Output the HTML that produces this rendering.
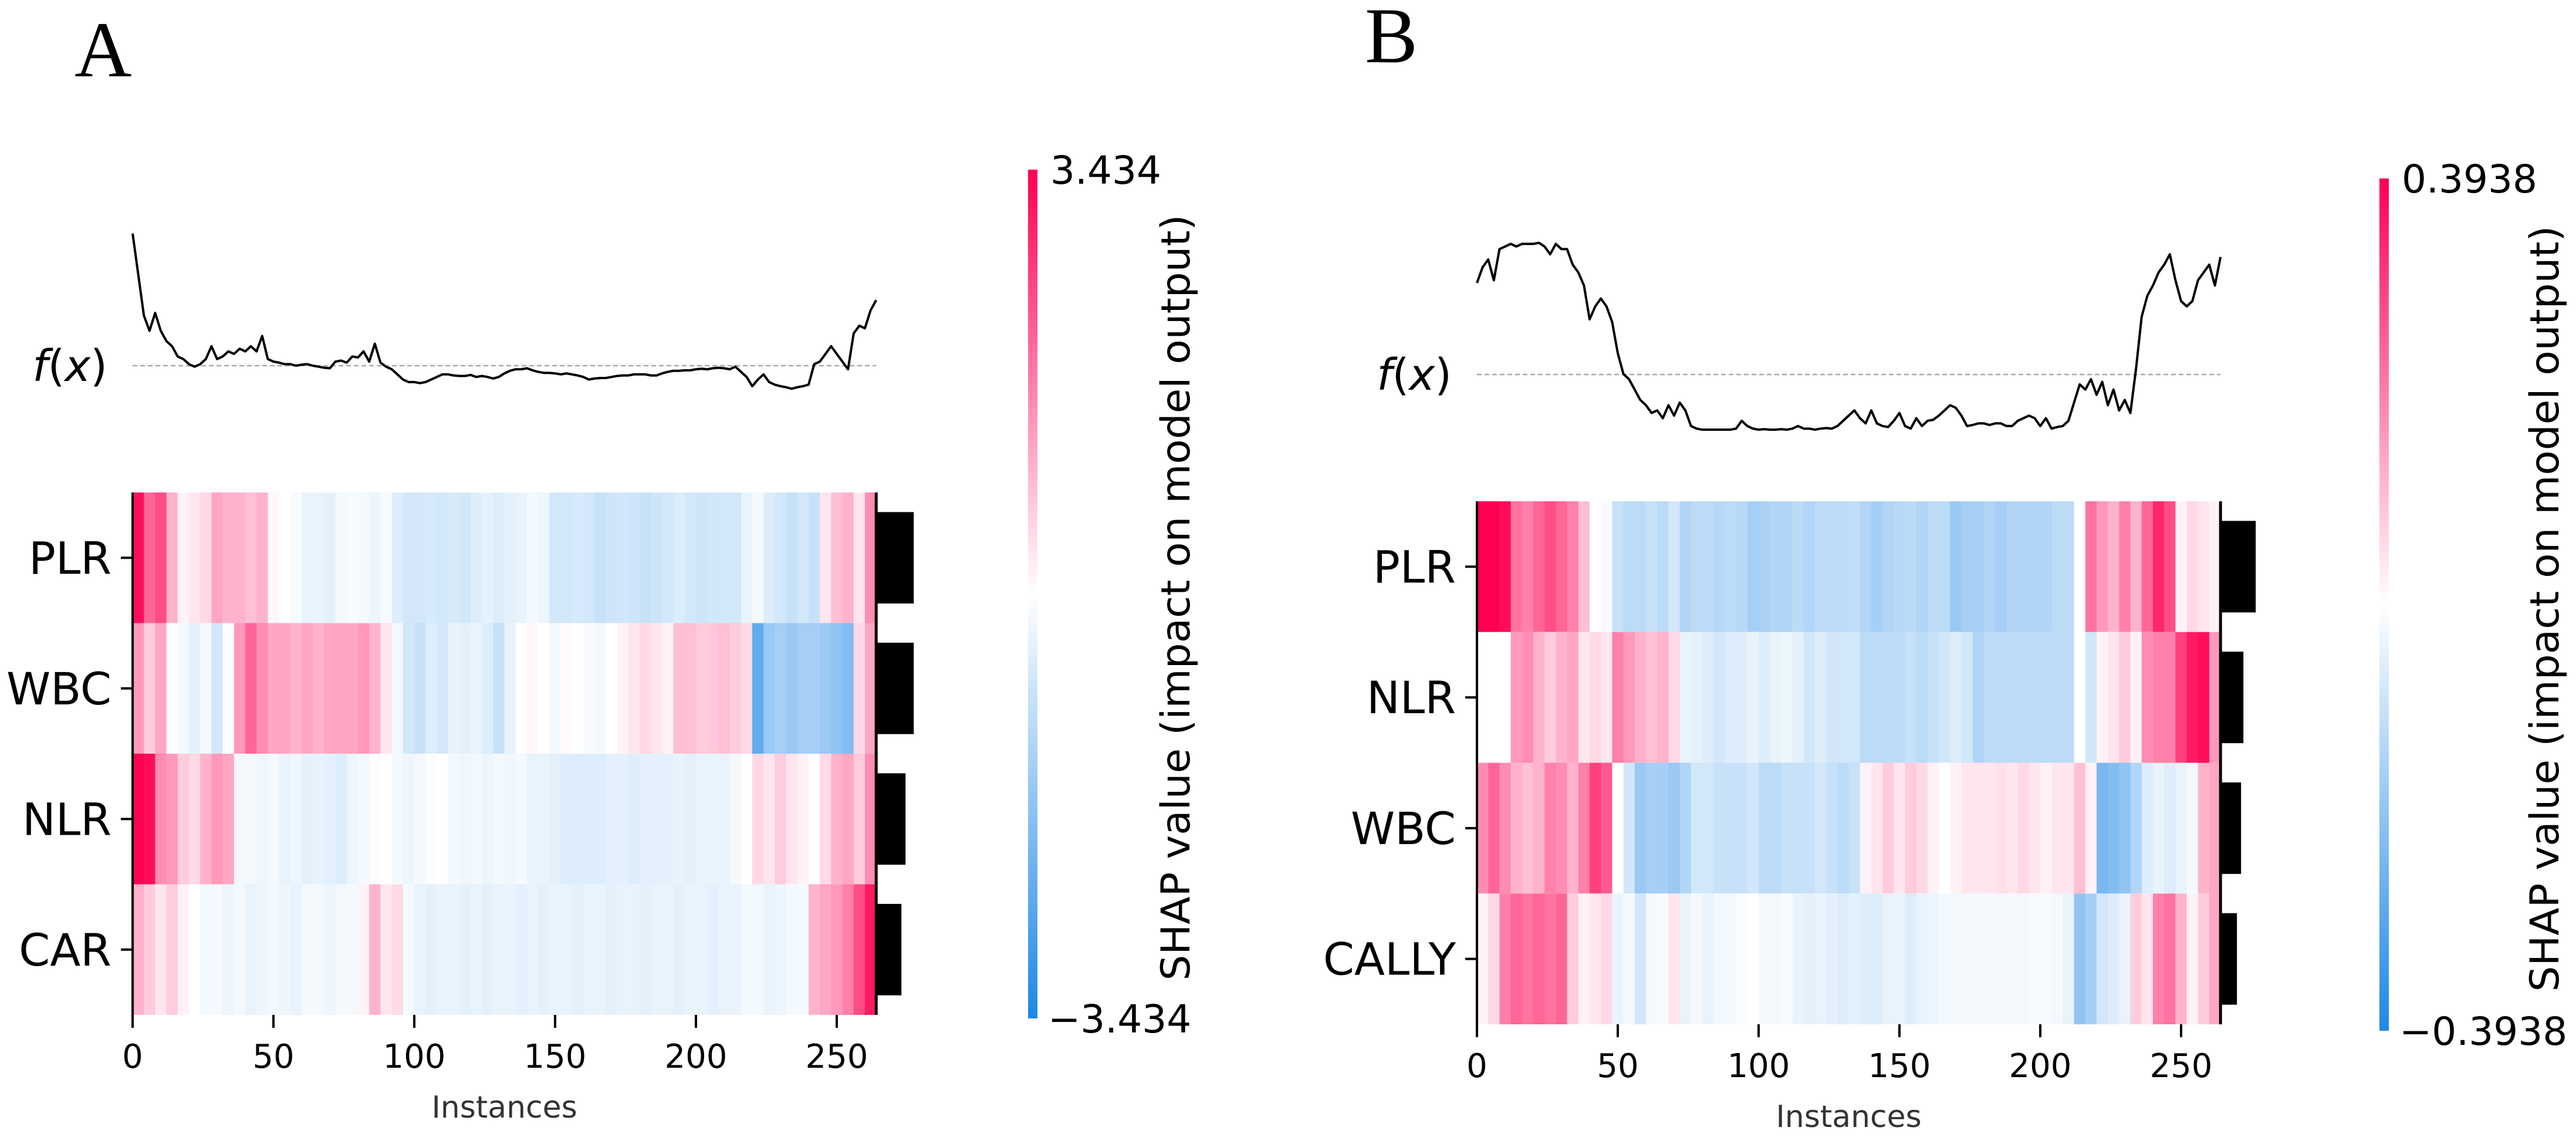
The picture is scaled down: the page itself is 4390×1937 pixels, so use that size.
<!DOCTYPE html>
<html><head><meta charset="utf-8">
<style>
html,body{margin:0;padding:0;background:#fff;}
svg{display:block;font-family:"DejaVu Sans","Liberation Sans",sans-serif;}
</style></head>
<body>
<svg id="fig" width="4390" height="1937" viewBox="0 0 4390 1937" xmlns="http://www.w3.org/2000/svg">
<defs>
<linearGradient id="cbar" x1="0" y1="1" x2="0" y2="0">
<stop offset="0" stop-color="rgb(30,136,229)"/>
<stop offset="0.5" stop-color="rgb(255,255,255)"/>
<stop offset="1" stop-color="rgb(255,0,82)"/>
</linearGradient>
</defs>
<text x="127" y="130" font-family="Liberation Serif, serif" font-size="135">A</text>
<text x="2326" y="106" font-family="Liberation Serif, serif" font-size="135">B</text>
<g id="pa"></g>
<g id="pb"></g>
</svg>
<script>
// ---------- Panel A data ----------
const featuresA = ["PLR","WBC","NLR","CAR"];
const plrA = [0.95,0.6,0.7,0.3,0.05,0.1,0.15,0.35,0.3,0.3,0.25,0.3,0.03,0,-0.03,-0.1,-0.1,-0.12,-0.05,-0.03,-0.05,-0.08,-0.03,-0.15,-0.2,-0.2,-0.18,-0.2,-0.18,-0.2,-0.15,-0.12,-0.15,-0.12,-0.1,-0.05,-0.08,-0.2,-0.2,-0.18,-0.2,-0.25,-0.22,-0.2,-0.22,-0.25,-0.22,-0.2,-0.15,-0.2,-0.22,-0.2,-0.2,-0.2,-0.1,-0.05,-0.15,-0.2,-0.25,-0.2,-0.25,0.1,0.25,0.3,0.1,0.45];
const wbcA = [0.4,0.2,0.35,0,-0.05,-0.12,-0.05,-0.2,0,0.4,0.6,0.45,0.35,0.35,0.3,0.35,0.3,0.35,0.35,0.35,0.4,0.3,0.1,-0.05,-0.2,-0.25,-0.15,-0.2,-0.1,-0.12,-0.1,-0.15,-0.25,-0.1,0,0.03,0,-0.05,0.02,0,-0.03,-0.05,0,0.05,0.1,0.15,0.1,0.05,0.25,0.25,0.2,0.22,0.25,0.2,0.15,-0.7,-0.45,-0.4,-0.45,-0.4,-0.4,-0.45,-0.5,-0.55,0.15,0.35];
const nlrA = [1,0.95,0.45,0.4,0.2,0.15,0.3,0.4,0.35,-0.05,-0.05,-0.07,-0.05,-0.1,-0.08,-0.12,-0.1,-0.12,-0.15,-0.08,-0.05,-0.02,0,-0.05,-0.08,-0.05,-0.02,0,-0.05,-0.07,-0.05,-0.08,-0.05,-0.07,-0.05,-0.1,-0.1,-0.12,-0.15,-0.15,-0.15,-0.15,-0.12,-0.12,-0.15,-0.12,-0.12,-0.12,-0.1,-0.12,-0.1,-0.1,-0.1,-0.05,0,0.15,0.1,0.2,0.1,0.05,0,0.15,0.3,0.35,0.2,0.45];
const carA = [0.3,0.2,0.1,0.2,0.05,0,-0.05,-0.05,-0.08,-0.05,-0.1,-0.08,-0.05,-0.08,-0.1,-0.05,-0.05,-0.08,-0.05,-0.05,0.05,0.3,0.1,0.15,-0.05,-0.1,-0.12,-0.1,-0.1,-0.12,-0.1,-0.12,-0.1,-0.1,-0.12,-0.1,-0.12,-0.1,-0.1,-0.12,-0.1,-0.1,-0.12,-0.1,-0.1,-0.12,-0.1,-0.1,-0.12,-0.1,-0.1,-0.12,-0.1,-0.1,-0.05,-0.05,-0.1,-0.08,-0.05,-0.05,0.3,0.35,0.4,0.5,0.7,0.9];
const importanceA = [0.64,0.64,0.50,0.43];
const fxA = [2.58,1.78,0.98,0.68,1.03,0.68,0.48,0.38,0.18,0.13,
0.03,-0.02,0.03,0.13,0.38,0.13,0.18,0.28,0.23,0.33,
0.28,0.38,0.28,0.58,0.13,0.08,0.06,0.03,0.03,0,
0.02,0.03,0,-0.02,-0.04,-0.05,0.08,0.1,0.06,0.18,
0.16,0.28,0.08,0.43,0.06,-0.02,-0.07,-0.17,-0.27,-0.32,
-0.32,-0.34,-0.32,-0.27,-0.22,-0.17,-0.17,-0.19,-0.2,-0.2,
-0.18,-0.22,-0.2,-0.22,-0.25,-0.22,-0.15,-0.1,-0.07,-0.07,
-0.05,-0.09,-0.12,-0.14,-0.14,-0.15,-0.17,-0.15,-0.17,-0.19,
-0.22,-0.27,-0.25,-0.24,-0.24,-0.22,-0.2,-0.19,-0.19,-0.17,
-0.17,-0.17,-0.19,-0.19,-0.15,-0.12,-0.1,-0.1,-0.09,-0.09,
-0.07,-0.06,-0.07,-0.05,-0.04,-0.05,-0.07,-0.02,-0.12,-0.22,
-0.4,-0.27,-0.17,-0.32,-0.37,-0.4,-0.42,-0.45,-0.42,-0.4,
-0.37,0.03,0.08,0.23,0.38,0.23,0.08,-0.07,0.63,0.78,
0.73,1.08,1.28];
const cbarTicksA = ["3.434","\u22123.434"];

// ---------- Panel B data ----------
const featuresB = ["PLR","NLR","WBC","CALLY"];
const plrB = [1,1,0.95,0.55,0.5,0.6,0.7,0.6,0.5,0.25,0,-0.03,-0.25,-0.3,-0.3,-0.25,-0.3,-0.2,-0.35,-0.3,-0.3,-0.32,-0.3,-0.32,-0.4,-0.38,-0.35,-0.35,-0.3,-0.35,-0.3,-0.3,-0.3,-0.28,-0.35,-0.4,-0.35,-0.32,-0.3,-0.35,-0.3,-0.3,-0.45,-0.4,-0.4,-0.35,-0.4,-0.35,-0.35,-0.35,-0.35,-0.3,-0.3,0,0.55,0.4,0.3,0.5,0.3,0.6,0.85,0.7,0.05,0.15,0.1,0.05];
const nlrB = [0,0,0,0.4,0.45,0.3,0.2,0.3,0.35,0.1,0.15,0.1,0.5,0.4,0.3,0.25,0.3,0.15,-0.1,-0.12,-0.15,-0.2,-0.15,-0.15,-0.1,-0.15,-0.1,-0.08,-0.12,-0.2,-0.15,-0.2,-0.2,-0.2,-0.3,-0.3,-0.3,-0.3,-0.25,-0.3,-0.25,-0.2,-0.15,-0.2,-0.35,-0.3,-0.3,-0.3,-0.3,-0.3,-0.3,-0.3,-0.3,0,-0.2,0.05,0.1,0.2,0.05,0.45,0.5,0.5,0.75,0.9,0.95,0.4];
const wbcB = [0.45,0.6,0.45,0.3,0.25,0.3,0.5,0.45,0.3,0.5,0.75,0.65,0,-0.2,-0.45,-0.4,-0.4,-0.45,-0.35,-0.2,-0.2,-0.25,-0.25,-0.25,-0.2,-0.3,-0.3,-0.25,-0.25,-0.25,-0.2,-0.25,-0.3,-0.25,0.05,0.1,0.2,0.1,0.2,0.15,0.05,0,0.05,0.1,0.1,0.1,0.12,0.1,0.15,0.1,0.05,0.1,0.1,0.25,0.05,-0.6,-0.55,-0.5,-0.35,-0.15,-0.1,-0.15,-0.1,-0.05,0.3,0.35];
const callyB = [0.05,0.15,0.5,0.6,0.55,0.6,0.55,0.6,0.2,0.05,0.1,0.15,-0.1,-0.05,-0.2,-0.05,-0.03,0.1,-0.1,-0.05,-0.1,-0.05,-0.05,-0.02,0,-0.05,-0.05,-0.03,-0.1,-0.12,-0.1,-0.12,-0.15,-0.12,-0.15,-0.15,-0.1,-0.1,-0.15,-0.1,-0.08,-0.05,-0.05,-0.05,-0.05,-0.05,-0.05,-0.05,-0.05,-0.03,-0.03,-0.05,-0.1,-0.5,-0.4,-0.2,-0.15,-0.1,0.2,0.1,0.5,0.55,0.3,0.05,0.2,0.35];
const importanceB = [0.60,0.39,0.35,0.28];
const fxB = [1.76,2.06,2.21,1.81,2.41,2.46,2.51,2.46,2.51,2.51,
2.51,2.53,2.46,2.31,2.51,2.41,2.41,2.11,1.96,1.71,
1.06,1.31,1.46,1.31,1.01,0.41,0.01,-0.09,-0.29,-0.49,
-0.59,-0.74,-0.69,-0.84,-0.59,-0.79,-0.54,-0.69,-0.99,-1.04,
-1.06,-1.06,-1.06,-1.06,-1.06,-1.06,-1.04,-0.89,-0.99,-1.04,
-1.06,-1.05,-1.06,-1.06,-1.05,-1.06,-1.04,-0.99,-1.04,-1.04,
-1.06,-1.04,-1.03,-1.04,-0.99,-0.89,-0.79,-0.69,-0.84,-0.94,
-0.69,-0.94,-0.99,-1.01,-0.89,-0.74,-0.99,-1.04,-0.84,-0.99,
-0.89,-0.87,-0.79,-0.69,-0.59,-0.64,-0.79,-0.99,-0.97,-0.94,
-0.94,-0.97,-0.94,-0.94,-0.99,-0.99,-0.89,-0.84,-0.79,-0.84,
-0.99,-0.84,-1.04,-1.01,-0.99,-0.89,-0.54,-0.19,-0.29,-0.09,
-0.39,-0.14,-0.59,-0.29,-0.69,-0.49,-0.74,0.11,1.11,1.51,
1.71,1.96,2.11,2.31,1.81,1.41,1.31,1.41,1.81,1.96,
2.11,1.71,2.26];
const cbarTicksB = ["0.3938","\u22120.3938"];

const xTicks = [0,50,100,150,200,250];
const nInstances = 264;
const cellSize = 4;
const fxStep = 2;

const NS = "http://www.w3.org/2000/svg";
function mk(tag, attrs, parent){
  const e = document.createElementNS(NS, tag);
  for (const k in attrs) e.setAttribute(k, attrs[k]);
  parent.appendChild(e);
  return e;
}
function color(v){
  v = Math.max(-1, Math.min(1, v));
  let r,g,b;
  if (v >= 0){ r = 255; g = 255 - 255*v; b = 255 - 173*v; }
  else { const t = -v; r = 255 - 225*t; g = 255 - 119*t; b = 255 - 26*t; }
  return `rgb(${Math.round(r)},${Math.round(g)},${Math.round(b)})`;
}

function drawPanel(root, cfg){
  const xScale = i => cfg.left + i * cfg.pxPerInst;
  const rowH = (cfg.bottom - cfg.top) / cfg.features.length;
  const yRow = r => cfg.top + r * rowH;
  const yFx = v => cfg.baseY - v * cfg.fxScale;
  const right = xScale(nInstances);

  // heatmap cells
  cfg.rows.forEach((row, r) => {
    row.forEach((v, k) => {
      const c = mk('rect', {x: xScale(k*cellSize), y: yRow(r), width: cellSize*cfg.pxPerInst + 0.6, height: rowH, fill: color(v)}, root);
      
      
    });
  });

  // axes spines
  const ls = mk('line', {x1: cfg.left, y1: cfg.top, x2: cfg.left, y2: cfg.bottom, stroke: '#000', 'stroke-width': 4}, root);
  
  
  const rs = mk('line', {x1: right, y1: cfg.top, x2: right, y2: cfg.bottom, stroke: '#000', 'stroke-width': 5}, root);
  
  

  // feature labels + ticks + importance bars
  cfg.features.forEach((f, r) => {
    const cy = yRow(r) + rowH/2;
    const t = mk('line', {x1: cfg.left-20, y1: cy, x2: cfg.left, y2: cy, stroke: '#000', 'stroke-width': 4}, root);
    
    
    const lb = mk('text', {x: cfg.left-36, y: cy + 27, 'text-anchor': 'end', 'font-size': 76, fill: '#000'}, root);
    lb.textContent = f;
    
    
    const bw = cfg.importance[r] * 100;
    const bh = rowH * 0.7;
    const b = mk('rect', {x: right, y: cy - bh/2, width: bw, height: bh, fill: '#000'}, root);
    
    
  });

  // x ticks
  xTicks.forEach(v => {
    const x = xScale(v);
    const t = mk('line', {x1: x, y1: cfg.bottom, x2: x, y2: cfg.bottom+22, stroke: '#000', 'stroke-width': 4}, root);
    
    
    const lb = mk('text', {x: x, y: cfg.bottom + 90, 'text-anchor': 'middle', 'font-size': 56, fill: '#000'}, root);
    lb.textContent = String(v);
    
    
  });
  const xt = mk('text', {x: (cfg.left + right)/2, y: cfg.bottom + 175, 'text-anchor': 'middle', 'font-size': 52, fill: '#333'}, root);
  xt.textContent = 'Instances';
  
  

  // f(x) dashed baseline
  const dl = mk('line', {x1: cfg.left, y1: cfg.baseY, x2: right, y2: cfg.baseY, stroke: '#aaa', 'stroke-width': 2.5, 'stroke-dasharray': '8,5'}, root);
  
  
  const fl = mk('text', {x: cfg.fxLabelX, y: cfg.baseY + 26, 'text-anchor': 'end', 'font-size': 74, fill: '#000'}, root);
  fl.innerHTML = '<tspan font-style="italic">f</tspan>(<tspan font-style="italic">x</tspan>)';
  
  

  // f(x) line
  const pts = cfg.fx.map((v, j) => xScale(j*fxStep).toFixed(1) + ',' + yFx(v).toFixed(1)).join(' ');
  const pl = mk('polyline', {points: pts, fill: 'none', stroke: '#000', 'stroke-width': 4, 'stroke-linejoin': 'round'}, root);
  
  

  // colorbar
  const cb = mk('rect', {x: cfg.cbX, y: cfg.cbTop, width: 16, height: cfg.cbBottom - cfg.cbTop, fill: 'url(#cbar)'}, root);
  
  
  const ct = mk('text', {x: cfg.cbX + 38, y: cfg.cbTop + 24, 'font-size': 66, fill: '#000'}, root);
  ct.textContent = cfg.cbTicks[0];
  
  
  const cbm = mk('text', {x: cfg.cbX + 34, y: cfg.cbBottom + 24, 'font-size': 66, fill: '#000'}, root);
  cbm.textContent = cfg.cbTicks[1];
  
  
  const cl = mk('text', {x: 0, y: 0, 'text-anchor': 'middle', 'font-size': 68, fill: '#000', transform: `translate(${cfg.cbLabelX},${cfg.cbLabelY}) rotate(-90)`, textLength: cfg.cbLabelLen, lengthAdjust: 'spacingAndGlyphs'}, root);
  cl.textContent = 'SHAP value (impact on model output)';
  
  
}

drawPanel(document.getElementById('pa'), {
  features: featuresA, rows: [plrA, wbcA, nlrA, carA], importance: importanceA, fx: fxA, cbTicks: cbarTicksA,
  left: 226, pxPerInst: 4.8, top: 839, bottom: 1729, baseY: 623, fxScale: 87.3, fxLabelX: 183,
  cbX: 1752, cbTop: 289, cbBottom: 1735, cbLabelX: 2027, cbLabelY: 1018, cbLabelLen: 1305
});
drawPanel(document.getElementById('pb'), {
  features: featuresB, rows: [plrB, nlrB, wbcB, callyB], importance: importanceB, fx: fxB, cbTicks: cbarTicksB,
  left: 2517, pxPerInst: 4.8, top: 854, bottom: 1745, baseY: 638, fxScale: 88.65, fxLabelX: 2474,
  cbX: 4055, cbTop: 304, cbBottom: 1756, cbLabelX: 4360, cbLabelY: 1037, cbLabelLen: 1305
});
</script>
</body></html>
